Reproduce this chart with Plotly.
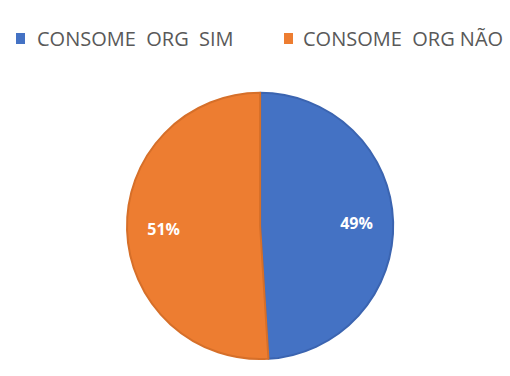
import plotly.graph_objects as go

labels = ["CONSOME  ORG  SIM", "CONSOME  ORG NÃO"]
values = [49, 51]
colors = ["#4472C4", "#ED7D31"]
edge_colors = ["#3b64b0", "#d66f29"]

W, H = 510, 376
dom_x = [0.249, 0.771]
dom_y = [0.043, 0.755]

fig = go.Figure()
# main pie (no text)
fig.add_trace(go.Pie(
    labels=labels, values=values, sort=False, direction="clockwise", rotation=0,
    marker=dict(colors=colors, line=dict(color=edge_colors, width=2)),
    textinfo="none", domain=dict(x=dom_x, y=dom_y), showlegend=False,
))
# transparent ring overlay used only to place percentage labels further out
fig.add_trace(go.Pie(
    labels=labels, values=values, sort=False, direction="clockwise", rotation=0,
    hole=0.45,
    marker=dict(colors=["rgba(0,0,0,0)"] * len(values), line=dict(width=0)),
    textinfo="percent", textposition="inside", insidetextorientation="horizontal",
    textfont=dict(family="Open Sans, Arial", size=16, color="white", weight="bold"),
    domain=dict(x=dom_x, y=dom_y), showlegend=False, hoverinfo="skip",
))

# manual legend
legend_text_x = [35, 301]
legend_box_x = [16, 284]
legend_y = 38
for i, lab in enumerate(labels):
    fig.add_shape(type="rect", xref="paper", yref="paper",
                  x0=legend_box_x[i] / W, x1=(legend_box_x[i] + 9) / W,
                  y0=1 - (legend_y + 6) / H, y1=1 - (legend_y - 5) / H,
                  fillcolor=colors[i], line=dict(width=0))
    fig.add_annotation(text=lab.replace(" ", "\u00a0"), xref="paper", yref="paper",
                       x=legend_text_x[i] / W, y=1 - legend_y / H,
                       xanchor="left", yanchor="middle", showarrow=False,
                       font=dict(family="Open Sans, Arial", size=20, color="#595959"))

fig.update_layout(
    width=W, height=H, margin=dict(l=0, r=0, t=0, b=0),
    paper_bgcolor="white", plot_bgcolor="white",
)
fig.write_html("out.html")
